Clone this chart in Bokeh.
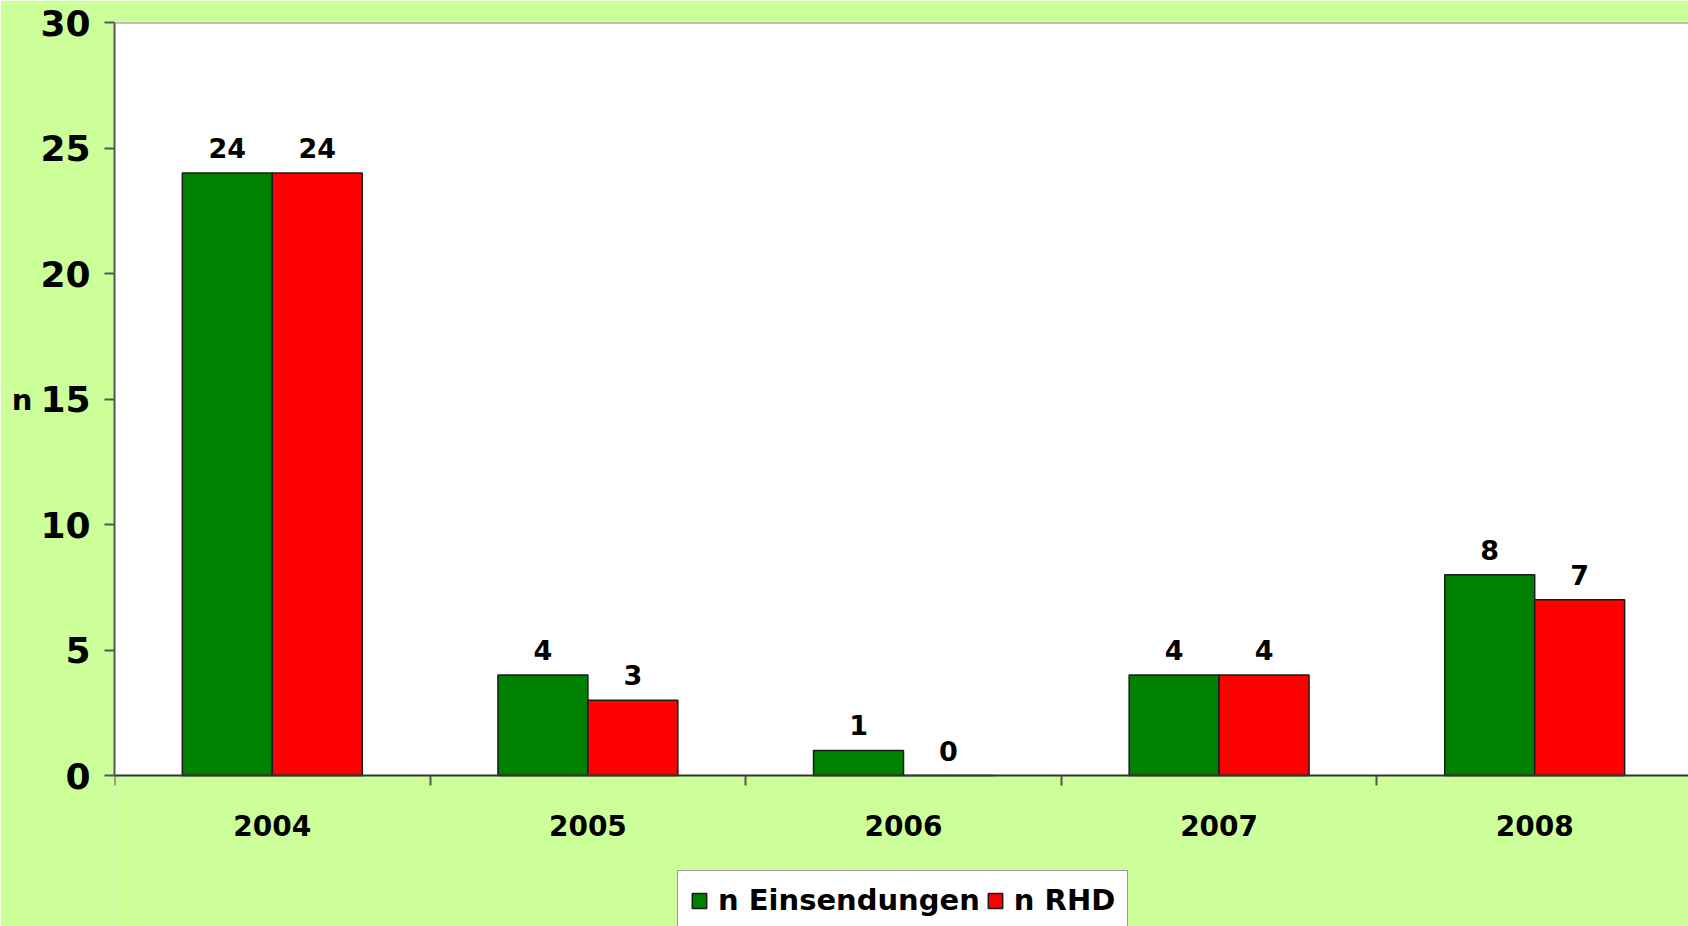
from bokeh.plotting import figure
from bokeh.models import (Range1d, FixedTicker, Legend, LegendItem, Span,
                          ColumnDataSource, BoxAnnotation)
from bokeh.embed import file_html
from bokeh.resources import INLINE
from bokeh.core.properties import value

years = ["2004", "2005", "2006", "2007", "2008"]
einsendungen = [24, 4, 1, 4, 8]
rhd = [24, 3, 0, 4, 7]
y_ticks = [0, 5, 10, 15, 20, 25, 30]

FONT = "DejaVu Sans"
BG = "#CCFF99"
BAR_W = 0.285
CAT_PX = 315.6
idx = list(range(len(years)))
x_e = [i + 0.5 - BAR_W / 2 for i in idx]
x_r = [i + 0.5 + BAR_W / 2 for i in idx]

W, H = 1688, 926
LEFT, TOP = 114, 22
ZERO_Y = 775              # pixel row (in figure) of the value 0
frame_w = W - LEFT
frame_h = H - TOP
px_per_unit = (ZERO_Y - TOP) / 30.0
y_start = 30 - frame_h / px_per_unit

p = figure(width=W, height=H, output_backend="svg", toolbar_location=None,
           x_range=Range1d(0, frame_w / CAT_PX), y_range=Range1d(y_start, 30),
           min_border_left=LEFT, min_border_top=TOP, min_border_bottom=0,
           min_border_right=0)
p.background_fill_color = BG
p.border_fill_color = BG
p.outline_line_color = None
p.grid.visible = False

# white plot area only above zero
p.add_layout(BoxAnnotation(bottom=0, fill_color="white", fill_alpha=1.0,
                           line_color=None, level="underlay"))

src = ColumnDataSource(dict(x_e=x_e, x_r=x_r, e=einsendungen, r=rhd,
                            le=[str(v) for v in einsendungen],
                            lr=[str(v) for v in rhd]))

g = p.vbar(x="x_e", top="e", width=BAR_W, source=src, fill_color="#008000",
           line_color="#1a1a1a", line_width=1.5)
r = p.vbar(x="x_r", top="r", width=BAR_W, source=src, fill_color="#FF0000",
           line_color="#1a1a1a", line_width=1.5)

for xcol, ycol, tcol in (("x_e", "e", "le"), ("x_r", "r", "lr")):
    p.text(x=xcol, y=ycol, text=tcol, source=src, text_font=value(FONT),
           text_font_style="bold", text_font_size="27px", text_align="center",
           text_baseline="alphabetic", y_offset=-25, text_color="black")

p.add_layout(Span(location=30, dimension="width", line_color="#888888", line_width=2))

xa = p.xaxis[0]
xa.fixed_location = 0
xa.ticker = FixedTicker(ticks=[i + 0.5 for i in idx], minor_ticks=list(range(len(years) + 1)))
xa.major_label_overrides = {i + 0.5: y for i, y in zip(idx, years)}
xa.major_tick_line_color = None
xa.major_tick_out = 0
xa.major_tick_in = 0
xa.minor_tick_out = 10
xa.minor_tick_in = 0
xa.minor_tick_line_color = "#555555"
xa.minor_tick_line_width = 2
xa.axis_line_color = "#333333"
xa.axis_line_width = 2
xa.major_label_text_font = FONT
xa.major_label_text_font_style = "bold"
xa.major_label_text_font_size = "28px"
xa.major_label_text_color = "black"
xa.major_label_standoff = 29

ya = p.yaxis[0]
ya.bounds = (0, 30)
ya.ticker = FixedTicker(ticks=y_ticks, minor_ticks=[])
ya.major_tick_out = 10
ya.major_tick_in = 0
ya.major_tick_line_color = "#555555"
ya.major_tick_line_width = 2
ya.minor_tick_line_color = None
ya.axis_line_color = "#555555"
ya.axis_line_width = 2
ya.major_label_text_font = FONT
ya.major_label_text_font_style = "bold"
ya.major_label_text_font_size = "36px"
ya.major_label_text_color = "black"
ya.major_label_standoff = 14
# trailing blank lines lift the "n" to the middle of the 0..30 span
ya.axis_label = "n" + "\n " * 5
ya.axis_label_orientation = "horizontal"
ya.axis_label_text_font = FONT
ya.axis_label_text_font_style = "bold"
ya.axis_label_text_font_size = "29px"
ya.axis_label_text_line_height = 0.88
ya.axis_label_text_color = "black"
ya.axis_label_standoff = 5

legend = Legend(items=[LegendItem(label="n Einsendungen", renderers=[g]),
                       LegendItem(label="n RHD", renderers=[r])],
                location=(563, -4), orientation="horizontal",
                glyph_width=18, glyph_height=19, label_standoff=10, spacing=6,
                padding=12, margin=0, label_text_font=FONT,
                label_text_font_style="bold", label_text_font_size="29px",
                label_text_color="black", border_line_color="#333333",
                border_line_width=1, background_fill_color="white",
                background_fill_alpha=1.0)
p.add_layout(legend)

open("out.html", "w").write(file_html(p, INLINE))
